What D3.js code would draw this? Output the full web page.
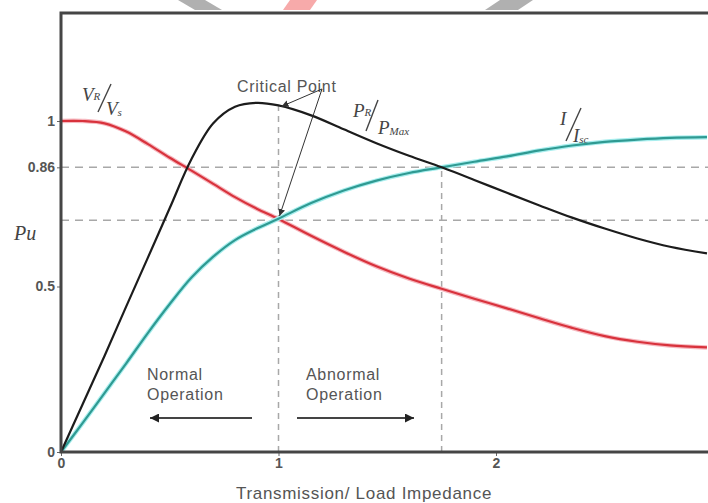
<!DOCTYPE html>
<html>
<head>
<meta charset="utf-8">
<script src="https://cdnjs.cloudflare.com/ajax/libs/d3/7.8.5/d3.min.js"></script>
<style>
  html, body { margin: 0; padding: 0; background: #fff; }
  svg { display: block; }
  .tick text { font-family: "Liberation Sans", Arial, sans-serif; font-weight: bold; fill: #555; }
  .note { font-family: "Liberation Sans", Arial, sans-serif; fill: #555; letter-spacing: 0.7px; }
  .frac { font-family: "Liberation Serif", "Times New Roman", serif; font-style: italic; fill: #444; }
</style>
</head>
<body>
<svg id="chart" width="708" height="503"></svg>
<script>
'use strict';

// values
var impedance = [0, 0.1, 0.2, 0.3, 0.4, 0.5, 0.6, 0.7, 0.8, 0.9, 1.0, 1.15, 1.3, 1.45, 1.6, 1.75, 1.9, 2.05, 2.2, 2.35, 2.5, 2.65, 2.8, 2.97];
var vrVs = [1.0, 1.0, 0.993, 0.968, 0.93, 0.889, 0.85, 0.81, 0.77, 0.735, 0.704, 0.653, 0.605, 0.561, 0.524, 0.493, 0.463, 0.434, 0.404, 0.375, 0.35, 0.333, 0.322, 0.316];
var prPmax = [0, 0.145, 0.29, 0.44, 0.588, 0.737, 0.885, 0.993, 1.043, 1.055, 1.047, 1.017, 0.975, 0.933, 0.895, 0.86, 0.822, 0.783, 0.745, 0.708, 0.675, 0.645, 0.62, 0.60];
var iIsc = [0, 0.088, 0.178, 0.268, 0.36, 0.447, 0.527, 0.59, 0.64, 0.675, 0.705, 0.752, 0.79, 0.82, 0.843, 0.86, 0.877, 0.893, 0.911, 0.926, 0.937, 0.944, 0.949, 0.951];

var xTicks = [0, 1, 2];
var yTicks = [0, 0.5, 0.86, 1];
var yLabels = ['0', '0.5', '0.86', '1'];
var refLevels = [0.86, 0.70];
var refImpedance = [1, 1.75];
var refTops = [1.047, 0.86];

var svg = d3.select('#chart');

var x = d3.scaleLinear().domain([0, 3]).range([61, 713.5]);
var y = d3.scaleLinear().domain([0, 1]).range([452, 121]);
var yTop = y.invert(13);

// watermark scraps along the top edge
var scraps = [
    {pts: [[178, 0], [205, 0], [222, 10], [195, 10]], fill: '#b0b0b0'},
    {pts: [[290, 0], [317, 0], [310, 10], [283, 10]], fill: '#f7aaaa'},
    {pts: [[500, 0], [533, 0], [518, 10], [485, 10]], fill: '#b0b0b0'}
];
svg.selectAll('.scrap')
    .data(scraps)
    .enter().append('polygon')
    .attr('class', 'scrap')
    .attr('points', function (d) { return d.pts.join(' '); })
    .attr('fill', function (d) { return d.fill; });

// dashed reference lines
svg.selectAll('.hRef')
    .data(refLevels)
    .enter().append('line')
    .attr('class', 'hRef')
    .attr('x1', x(0)).attr('x2', 708)
    .attr('y1', function (d) { return y(d); })
    .attr('y2', function (d) { return y(d); })
    .attr('stroke', '#a8a8a8')
    .attr('stroke-width', 1.5)
    .attr('stroke-dasharray', '8,6');

svg.selectAll('.vRef')
    .data(refImpedance)
    .enter().append('line')
    .attr('class', 'vRef')
    .attr('x1', function (d) { return x(d); })
    .attr('x2', function (d) { return x(d); })
    .attr('y1', y(0))
    .attr('y2', function (d, i) { return y(refTops[i]); })
    .attr('stroke', '#a8a8a8')
    .attr('stroke-width', 1.5)
    .attr('stroke-dasharray', '6,5');

// curves
var line = d3.line()
    .x(function (d, i) { return x(impedance[i]); })
    .y(function (d) { return y(d); })
    .curve(d3.curveCatmullRom.alpha(0.5));

var series = [
    {values: vrVs, color: '#d8323c', halo: '#f6b8bf'},
    {values: iIsc, color: '#2f9a92', halo: '#a8eeee'},
    {values: prPmax, color: '#1c1c1c', halo: null}
];

series.forEach(function (s) {
    if (s.halo) {
        svg.append('path')
            .attr('d', line(s.values))
            .attr('fill', 'none')
            .attr('stroke', s.halo)
            .attr('stroke-width', 4.5);
    }
    svg.append('path')
        .attr('d', line(s.values))
        .attr('fill', 'none')
        .attr('stroke', s.color)
        .attr('stroke-width', 2.2);
});

// axes
var yAxis = d3.axisLeft(y)
    .tickValues(yTicks)
    .tickFormat(function (d, i) { return yLabels[i]; })
    .tickSize(4)
    .tickPadding(2);

var gy = svg.append('g')
    .attr('transform', 'translate(' + x(0) + ',0)')
    .call(yAxis);
gy.select('.domain').remove();
gy.selectAll('.tick text').style('font-size', '14px');
gy.selectAll('.tick line').attr('stroke', '#666');

var xAxis = d3.axisBottom(x)
    .tickValues(xTicks)
    .tickFormat(d3.format('d'))
    .tickSize(4)
    .tickPadding(2);

var gx = svg.append('g')
    .attr('transform', 'translate(0,' + y(0) + ')')
    .call(xAxis);
gx.select('.domain').remove();
gx.selectAll('.tick text').style('font-size', '14px');
gx.selectAll('.tick line').attr('stroke', '#666');

// frame
svg.append('path')
    .attr('d', 'M708,' + y(yTop) + 'H' + x(0) + 'V' + y(0) + 'H708')
    .attr('fill', 'none')
    .attr('stroke', '#454545')
    .attr('stroke-width', 3);

// axis titles
svg.append('text')
    .attr('class', 'note')
    .attr('x', 364).attr('y', 499)
    .attr('text-anchor', 'middle')
    .style('font-size', '17px')
    .text('Transmission/ Load Impedance');

svg.append('text')
    .attr('class', 'frac')
    .attr('x', 14).attr('y', 240)
    .style('font-size', '20px')
    .text('Pu');

// arrow heads
var defs = svg.append('defs');
defs.append('marker')
    .attr('id', 'head')
    .attr('viewBox', '0 0 10 10')
    .attr('refX', 10).attr('refY', 5)
    .attr('markerWidth', 7).attr('markerHeight', 7)
    .attr('markerUnits', 'userSpaceOnUse')
    .attr('orient', 'auto')
    .append('path')
    .attr('d', 'M0,0L10,5L0,10Z')
    .attr('fill', '#333');
defs.append('marker')
    .attr('id', 'bigHead')
    .attr('viewBox', '0 0 10 10')
    .attr('refX', 10).attr('refY', 5)
    .attr('markerWidth', 12).attr('markerHeight', 9)
    .attr('markerUnits', 'userSpaceOnUse')
    .attr('orient', 'auto')
    .append('path')
    .attr('d', 'M0,0L10,5L0,10Z')
    .attr('fill', '#222');

// critical point
svg.append('text')
    .attr('class', 'note')
    .attr('x', 237).attr('y', 92)
    .style('font-size', '16px')
    .text('Critical Point');

var cpFrom = [322, 89];
[[x(1) + 3, y(1.047) + 1], [x(1) + 1, y(0.704) - 3]].forEach(function (to) {
    svg.append('line')
        .attr('x1', cpFrom[0]).attr('y1', cpFrom[1])
        .attr('x2', to[0]).attr('y2', to[1])
        .attr('stroke', '#333')
        .attr('stroke-width', 1)
        .attr('marker-end', 'url(#head)');
});

// operating regions
var regions = [
    {lines: ['Normal', 'Operation'], tx: 147, from: 252, to: 150},
    {lines: ['Abnormal', 'Operation'], tx: 306, from: 297, to: 414}
];
regions.forEach(function (r) {
    var t = svg.append('text')
        .attr('class', 'note')
        .style('font-size', '16px');
    r.lines.forEach(function (s, i) {
        t.append('tspan')
            .attr('x', r.tx)
            .attr('y', 380 + i * 20)
            .text(s);
    });
    svg.append('line')
        .attr('x1', r.from).attr('y1', 418)
        .attr('x2', r.to).attr('y2', 418)
        .attr('stroke', '#444')
        .attr('stroke-width', 2)
        .attr('marker-end', 'url(#bigHead)');
});

// curve labels drawn as slashed fractions
function fraction(num, numSub, den, denSub, nx, ny, slash, dx, dy, subSize) {
    var t = svg.append('text').attr('class', 'frac').style('font-size', '19px');
    t.append('tspan').attr('x', nx).attr('y', ny).text(num);
    t.append('tspan').style('font-size', subSize + 'px').attr('dy', -1).text(numSub);
    var b = svg.append('text').attr('class', 'frac').style('font-size', '19px');
    b.append('tspan').attr('x', dx).attr('y', dy).text(den);
    b.append('tspan').style('font-size', subSize + 'px').attr('dy', 1).text(denSub);
    svg.append('line')
        .attr('x1', slash[0]).attr('y1', slash[1])
        .attr('x2', slash[2]).attr('y2', slash[3])
        .attr('stroke', '#444')
        .attr('stroke-width', 1.4);
}

fraction('V', 'R', 'V', 's', 82, 101, [111, 84, 98, 112], 106, 115, 11);
fraction('P', 'R', 'P', 'Max', 353, 117, [378, 100, 366, 131], 378, 134, 11);
fraction('I', '', 'I', 'sc', 560, 125, [581, 108, 566, 141], 573, 142, 11);
</script>
</body>
</html>
